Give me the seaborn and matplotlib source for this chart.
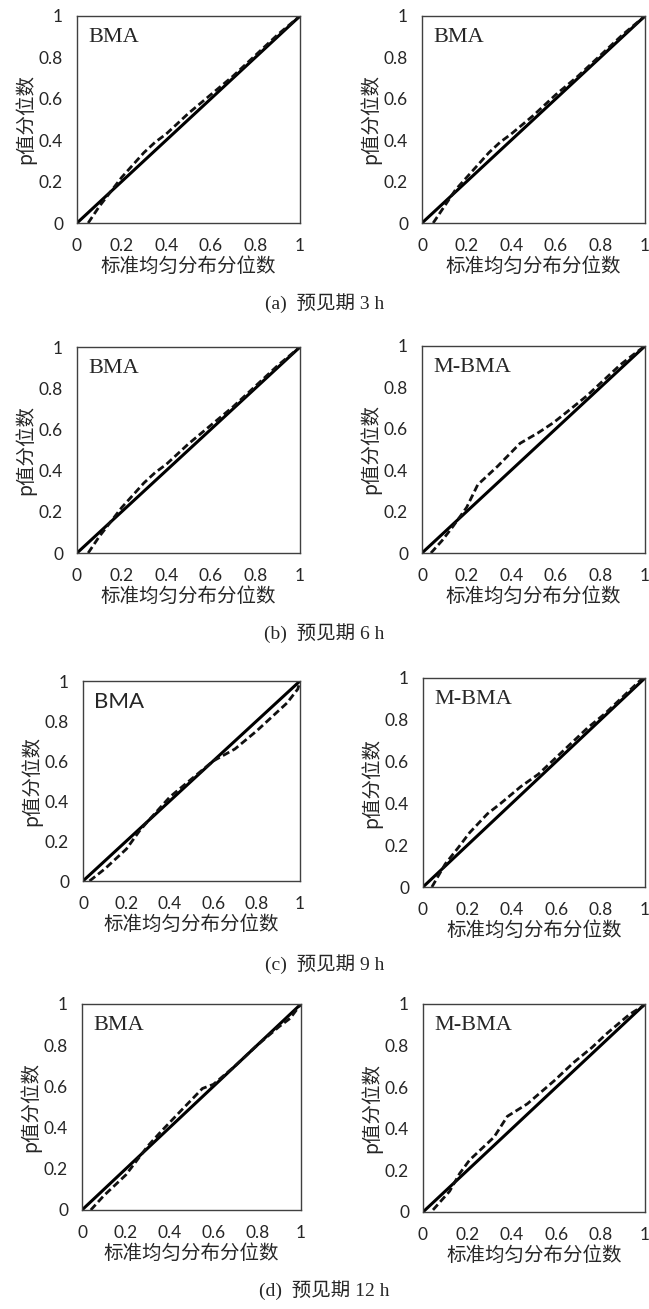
import matplotlib
matplotlib.use("Agg")
import matplotlib.pyplot as plt
import pandas as pd
import seaborn as sns

# Reference line (perfect calibration)
diag_x = [0, 1]
diag_y = [0, 1]

# (a) lead time 3 h
a_left_x = [0.05, 0.10, 0.15, 0.20, 0.25, 0.30, 0.35, 0.40, 0.50, 0.60, 0.70, 0.80, 0.90, 1.00]
a_left_y = [0.00, 0.08, 0.15, 0.22, 0.28, 0.34, 0.39, 0.43, 0.53, 0.62, 0.71, 0.81, 0.91, 1.00]
a_right_x = [0.05, 0.10, 0.15, 0.20, 0.25, 0.30, 0.35, 0.40, 0.50, 0.60, 0.70, 0.80, 0.90, 1.00]
a_right_y = [0.00, 0.08, 0.16, 0.22, 0.28, 0.34, 0.39, 0.43, 0.52, 0.62, 0.71, 0.81, 0.91, 1.00]

# (b) lead time 6 h
b_left_x = [0.05, 0.10, 0.15, 0.20, 0.25, 0.30, 0.35, 0.40, 0.50, 0.60, 0.70, 0.80, 0.90, 1.00]
b_left_y = [0.00, 0.08, 0.15, 0.22, 0.28, 0.34, 0.39, 0.43, 0.53, 0.62, 0.71, 0.81, 0.91, 1.00]
b_right_x = [0.04, 0.09, 0.14, 0.20, 0.25, 0.34, 0.44, 0.52, 0.59, 0.66, 0.74, 0.82, 0.89, 0.95, 1.00]
b_right_y = [0.00, 0.06, 0.13, 0.22, 0.33, 0.42, 0.53, 0.58, 0.63, 0.69, 0.76, 0.84, 0.91, 0.96, 1.00]

# (c) lead time 9 h
c_left_x = [0.03, 0.10, 0.20, 0.26, 0.30, 0.40, 0.50, 0.60, 0.70, 0.80, 0.90, 0.94, 0.99, 1.00]
c_left_y = [0.00, 0.06, 0.16, 0.25, 0.30, 0.42, 0.51, 0.60, 0.66, 0.75, 0.85, 0.89, 0.96, 1.00]
c_right_x = [0.04, 0.10, 0.16, 0.21, 0.29, 0.35, 0.44, 0.52, 0.59, 0.66, 0.74, 0.82, 0.89, 0.98, 1.00]
c_right_y = [0.00, 0.11, 0.19, 0.26, 0.35, 0.40, 0.48, 0.54, 0.61, 0.68, 0.76, 0.83, 0.90, 0.99, 1.00]

# (d) lead time 12 h
d_left_x = [0.04, 0.10, 0.20, 0.30, 0.36, 0.45, 0.55, 0.60, 0.70, 0.80, 0.90, 0.95, 1.00]
d_left_y = [0.00, 0.07, 0.17, 0.31, 0.38, 0.48, 0.59, 0.61, 0.70, 0.80, 0.89, 0.93, 1.00]
d_right_x = [0.045, 0.12, 0.165, 0.21, 0.32, 0.38, 0.47, 0.59, 0.68, 0.76, 0.83, 0.93, 0.99, 1.00]
d_right_y = [0.01, 0.10, 0.185, 0.25, 0.36, 0.46, 0.52, 0.63, 0.72, 0.79, 0.86, 0.95, 0.99, 1.00]

tick_vals = [0, 0.2, 0.4, 0.6, 0.8, 1]
tick_labels = ["0", "0.2", "0.4", "0.6", "0.8", "1"]
x_label = "标准均匀分布分位数"
y_label = "p值分位数"
captions = ["(a)  预见期 3 h", "(b)  预见期 6 h", "(c)  预见期 9 h", "(d)  预见期 12 h"]

# name, x, y, box in pixels (left, top, right, bottom), name font
panels = [
    ("BMA", a_left_x, a_left_y, (77, 16, 300, 223), "serif"),
    ("BMA", a_right_x, a_right_y, (422, 16, 645, 223), "serif"),
    ("BMA", b_left_x, b_left_y, (77, 347, 300, 553), "serif"),
    ("M-BMA", b_right_x, b_right_y, (422, 346, 645, 553), "serif"),
    ("BMA", c_left_x, c_left_y, (83, 681, 300, 881), "sans"),
    ("M-BMA", c_right_x, c_right_y, (423, 678, 645, 887), "serif"),
    ("BMA", d_left_x, d_left_y, (82, 1004, 301, 1210), "serif"),
    ("M-BMA", d_right_x, d_right_y, (423, 1004, 645, 1212), "serif"),
]
caption_y = [303, 633, 964, 1290]

W, H = 649, 1309
sns.set_style("white")
plt.rcParams["font.family"] = ["Lato", "Noto Sans CJK SC", "DejaVu Sans"]
text_col = "#262626"

fig = plt.figure(figsize=(W / 100, H / 100), dpi=100)

for name, xs, ys, (l, t, r, b), nfont in panels:
    ax = fig.add_axes([l / W, 1 - b / H, (r - l) / W, (b - t) / H])
    ref = pd.DataFrame({"x": diag_x, "y": diag_y})
    sns.lineplot(data=ref, x="x", y="y", ax=ax, color="black", lw=2.2,
                 estimator=None, sort=False)
    df = pd.DataFrame({"x": xs, "y": ys})
    sns.lineplot(data=df, x="x", y="y", ax=ax, color="#111111", lw=2.0,
                 estimator=None, sort=False, dashes=False)
    ax.lines[-1].set_dashes((2.6, 1.3))
    ax.set_xlim(0, 1)
    ax.set_ylim(0, 1)
    ax.set_xticks(tick_vals)
    ax.set_xticklabels(tick_labels)
    ax.set_yticks(tick_vals)
    ax.set_yticklabels(tick_labels)
    ax.tick_params(direction="in", length=4, width=1, colors="#333333",
                   labelsize=12.5, labelcolor=text_col, pad=10)
    ax.tick_params(axis="x", pad=11)
    ax.set_xlabel(x_label, fontsize=14, color=text_col, labelpad=1,
                  family=["Noto Sans CJK SC", "DejaVu Sans"])
    ax.set_ylabel(y_label, fontsize=14, color=text_col, labelpad=2,
                  family=["Noto Sans CJK SC", "DejaVu Sans"])
    for sp in ax.spines.values():
        sp.set_color("#404040")
        sp.set_linewidth(1.0)
    fam = ["Liberation Serif"] if nfont == "serif" else ["Lato"]
    ax.text(0.05, 0.895, name, transform=ax.transAxes, fontsize=16,
            family=fam, color=text_col, va="center", ha="left")

for cap, cy in zip(captions, caption_y):
    fig.text(0.5, 1 - cy / H, cap, ha="center", va="center", fontsize=14,
             color=text_col, family=["Liberation Serif", "Noto Sans CJK SC"])

fig.savefig("out.png", dpi=100)
